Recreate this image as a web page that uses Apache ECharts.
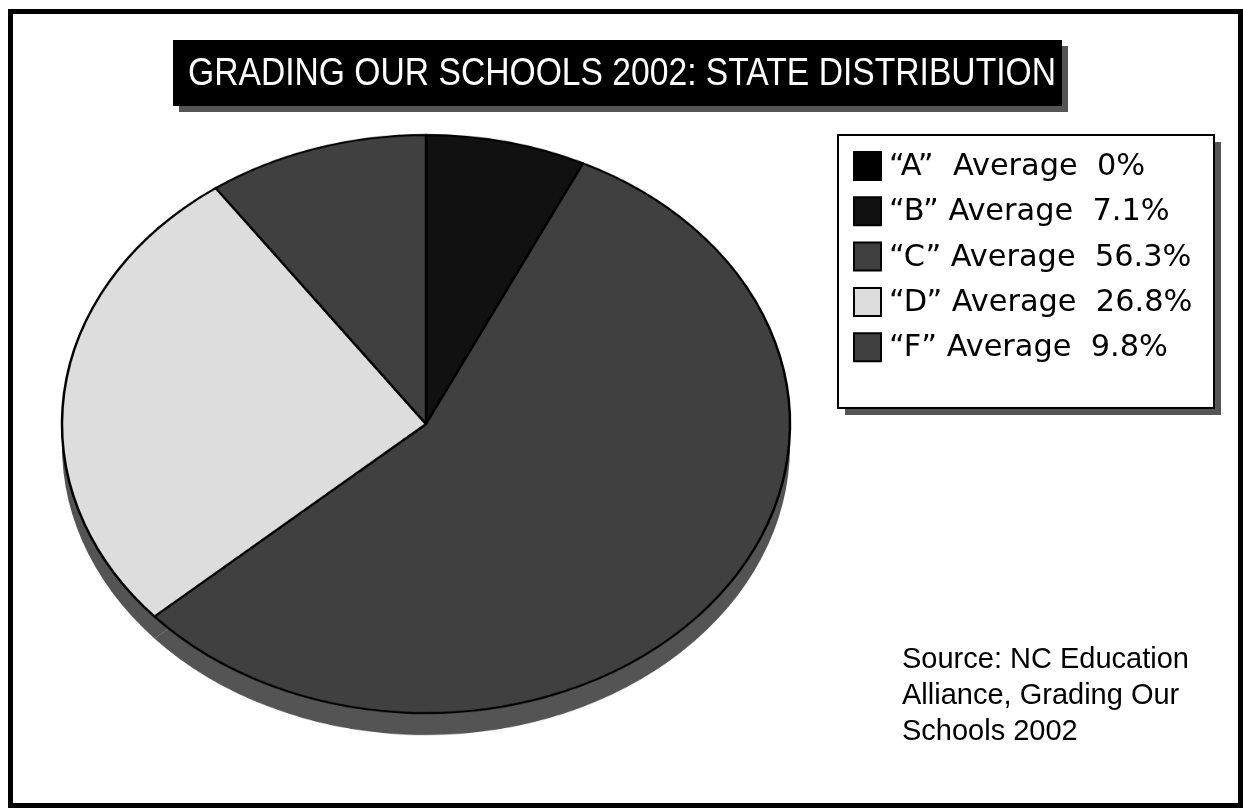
<!DOCTYPE html>
<html><head><meta charset="utf-8">
<script src="https://cdn.jsdelivr.net/npm/echarts@6/dist/echarts.min.js"></script>
<style>
html,body{margin:0;padding:0;background:#fff;overflow:hidden}
#main{position:absolute;left:0;top:0;width:1243px;height:808px}
#pie{position:absolute;left:25.5px;top:23.5px;width:800px;height:850px;transform-origin:400px 400px;transform:scaleY(0.794)}
</style></head><body>
<div id="main"></div><div id="pie"></div>
<script>
// ---- data ----
const titleText = 'GRADING OUR SCHOOLS 2002: STATE DISTRIBUTION';
const grades = ['A', 'B', 'C', 'D', 'F'];
const shares = [0, 7.1, 56.3, 26.8, 9.8];
const sliceColors = ['#000000', '#111111', '#404040', '#dddddd', '#404040'];
const sourceLines = ['Source: NC Education', 'Alliance, Grading Our', 'Schools 2002'];

const legendLabels = grades.map((g, i) => '\u201c' + g + '\u201d ' + (g === 'A' ? ' ' : '') + 'Average  ' + shares[i] + '%');

// ---- main canvas (frame, title, legend, source) ----
const main = echarts.init(document.getElementById('main'), null, {renderer: 'canvas'});
const ctx = document.createElement('canvas').getContext('2d');
ctx.font = '39px "Liberation Sans"';
const titleScale = 868 / ctx.measureText(titleText).width;

const graphics = [
  {type: 'rect', shape: {x: 10.5, y: 11.5, width: 1230, height: 794}, style: {fill: '#fff', stroke: '#000', lineWidth: 5}, z: 0},
  {type: 'rect', shape: {x: 179, y: 46, width: 889, height: 66}, style: {fill: '#555'}, z: 1},
  {type: 'rect', shape: {x: 173, y: 40, width: 889, height: 66}, style: {fill: '#000'}, z: 2},
  {type: 'text', x: 188, y: 74, scaleX: titleScale, style: {text: titleText, fill: '#fff', font: '39px "Liberation Sans"', textAlign: 'left', textVerticalAlign: 'middle'}, z: 3},
  {type: 'rect', shape: {x: 845, y: 142, width: 376, height: 273}, style: {fill: '#555'}, z: 1},
  {type: 'rect', shape: {x: 838, y: 135, width: 376, height: 273}, style: {fill: '#fff', stroke: '#000', lineWidth: 2}, z: 2},
  {type: 'text', x: 902, y: 642, style: {text: sourceLines.join('\n'), fill: '#000', font: '29px "Liberation Sans"', lineHeight: 36, textAlign: 'left', textVerticalAlign: 'top'}, z: 3}
];
grades.forEach((g, i) => {
  const cy = 166 + i * 45.3;
  graphics.push({type: 'rect', shape: {x: 854, y: cy - 14, width: 27, height: 28}, style: {fill: sliceColors[i], stroke: '#000', lineWidth: 2}, z: 3});
  graphics.push({type: 'text', x: 889, y: cy + 1, scaleX: 0.98, style: {text: legendLabels[i], fill: '#000', font: '31px "DejaVu Sans"', textAlign: 'left', textVerticalAlign: 'middle'}, z: 3});
});
main.setOption({animation: false, backgroundColor: '#fff', graphic: graphics});

// ---- pie (circle squashed into an ellipse by the container) ----
const pie = echarts.init(document.getElementById('pie'), null, {renderer: 'canvas'});
const pieData = grades.map((g, i) => ({name: g, value: shares[i], itemStyle: {color: sliceColors[i]}}));
pie.setOption({
  animation: false,
  series: [
    {type: 'pie', silent: true, center: [400, 427.7], radius: 364, startAngle: 90, clockwise: true,
     data: grades.map((g, i) => ({name: g, value: shares[i]})),
     itemStyle: {color: '#545454', borderWidth: 0}, label: {show: false}, labelLine: {show: false}, emphasis: {disabled: true}, z: 1},
    {type: 'pie', silent: true, center: [400, 400], radius: 364, startAngle: 90, clockwise: true,
     data: pieData,
     itemStyle: {borderColor: '#000', borderWidth: 2.5}, label: {show: false}, labelLine: {show: false}, emphasis: {disabled: true}, z: 2}
  ]
});
</script>
</body></html>
